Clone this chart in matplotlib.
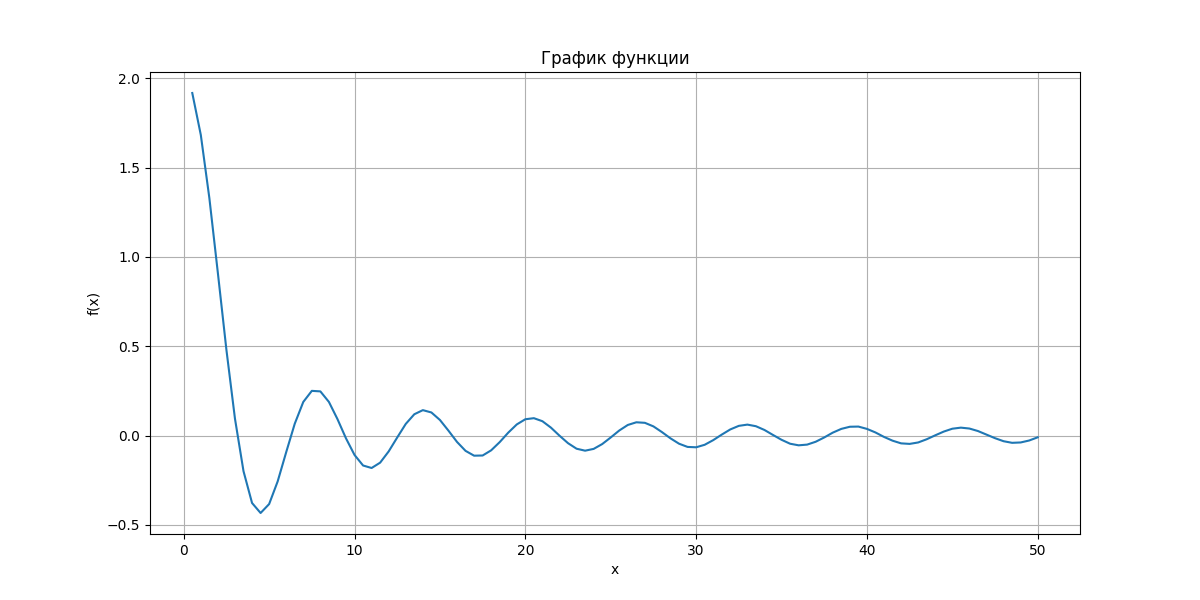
import matplotlib
matplotlib.use("Agg")
import matplotlib.pyplot as plt

x_values = [0.5 * k for k in range(1, 101)]
y_values = [
    1.918, 1.683, 1.330, 0.909, 0.479, 0.094, -0.200, -0.378, -0.434, -0.384,
    -0.257, -0.093, 0.066, 0.188, 0.250, 0.247, 0.188, 0.092, -0.016, -0.109,
    -0.168, -0.182, -0.152, -0.089, -0.011, 0.065, 0.119, 0.142, 0.129, 0.087,
    0.027, -0.036, -0.086, -0.113, -0.112, -0.083, -0.037, 0.016, 0.062, 0.091,
    0.097, 0.080, 0.044, -0.001, -0.043, -0.074, -0.085, -0.075, -0.048, -0.011,
    0.028, 0.059, 0.074, 0.071, 0.051, 0.019, -0.016, -0.046, -0.064, -0.066,
    -0.052, -0.026, 0.005, 0.034, 0.054, 0.061, 0.052, 0.031, 0.003, -0.024,
    -0.046, -0.055, -0.051, -0.035, -0.011, 0.016, 0.037, 0.049, 0.050, 0.037,
    0.017, -0.008, -0.029, -0.044, -0.047, -0.039, -0.021, 0.001, 0.022, 0.038,
    0.044, 0.039, 0.025, 0.005, -0.015, -0.032, -0.041, -0.039, -0.028, -0.010,
]

title = "График функции"
xlabel = "x"
ylabel = "f(x)"

fig, ax = plt.subplots(figsize=(12, 6), dpi=100)
ax.plot(x_values, y_values, color="#1f77b4")
ax.set_title(title)
ax.set_xlabel(xlabel)
ax.set_ylabel(ylabel)
ax.grid(True)
fig.savefig("out.png")
